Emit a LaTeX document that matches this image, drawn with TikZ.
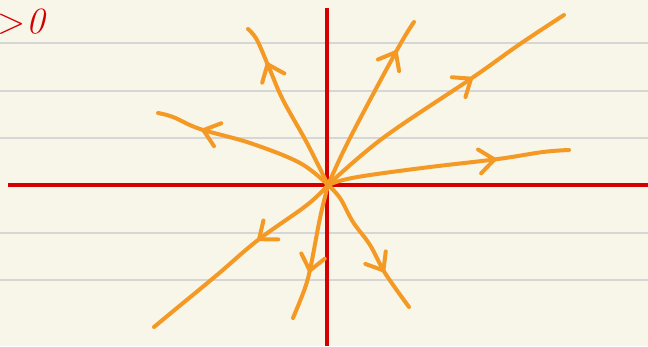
\documentclass[tikz,border=0pt]{standalone}
\usetikzlibrary{arrows.meta,decorations.markings}
\definecolor{Paper}{HTML}{F8F5E9}
\definecolor{Rule}{HTML}{D6D6D6}
\definecolor{AxisRed}{HTML}{D40000}
\definecolor{Flow}{HTML}{F49A24}
\tikzset{
    ruleline/.style={draw=Rule, line width=2pt},
    axisline/.style={draw=AxisRed, line width=4pt},
    traj/.style={draw=Flow, color=Flow, line width=4pt, line cap=round, line join=round},
    flowmark/.style={postaction=decorate, decoration={markings,
        mark=at position #1 with {\arrow{Straight Barb[length=15pt, width=24pt, round]}}}},
}

\begin{document}
\begin{tikzpicture}[x=1pt, y=-1pt]
    % Paper
    \fill[Paper] (0,0) rectangle (648,346);
    \useasboundingbox (0,0) rectangle (648,346);

    % Ruled lines
    \foreach \y in {43,91,138,233,280} {
        \draw[ruleline] (0,\y) -- (648,\y);
    }

    % Axes
    \coordinate (O) at (328,185);
    \draw[axisline] (8,185) -- (648,185);
    \draw[axisline] (327,8) -- (327,346);

    % Sign label
    \node[anchor=base west, inner sep=0pt, text=AxisRed,
        font=\fontsize{37}{37}\selectfont] (sign) at (-3,33) {>\kern1pt\textit{0}};

    % Trajectories
    \draw[traj, flowmark=0.78] plot[smooth, tension=0.6] coordinates {(O) (307,143) (283,100) (270,70) (257,40) (248,29)};
    \draw[traj, flowmark=0.82] plot[smooth, tension=0.6] coordinates {(O) (350,138) (397,50) (414,22)};
    \draw[traj, flowmark=0.62] plot[smooth, tension=0.6] coordinates {(O) (383,138) (472,78) (520,44) (564,15)};
    \draw[traj, flowmark=0.70] plot[smooth, tension=0.6] coordinates {(O) (343,180) (370,175) (430,167) (498,159) (543,152) (569,150)};
    \draw[traj, flowmark=0.75] plot[smooth, tension=0.6] coordinates {(O) (300,163) (250,143) (200,129) (173,117) (158,113)};
    \draw[traj, flowmark=0.40] plot[smooth, tension=0.6] coordinates {(O) (307,205) (258,240) (217,275) (177,308) (154,327)};
    \draw[traj, flowmark=0.65] plot[smooth, tension=0.6] coordinates {(O) (320,218) (311,265) (305,288) (293,318)};
    \draw[traj, flowmark=0.71] plot[smooth, tension=0.6] coordinates {(O) (340,198) (353,222) (370,245) (385,273) (409,307)};
\end{tikzpicture}
\end{document}
